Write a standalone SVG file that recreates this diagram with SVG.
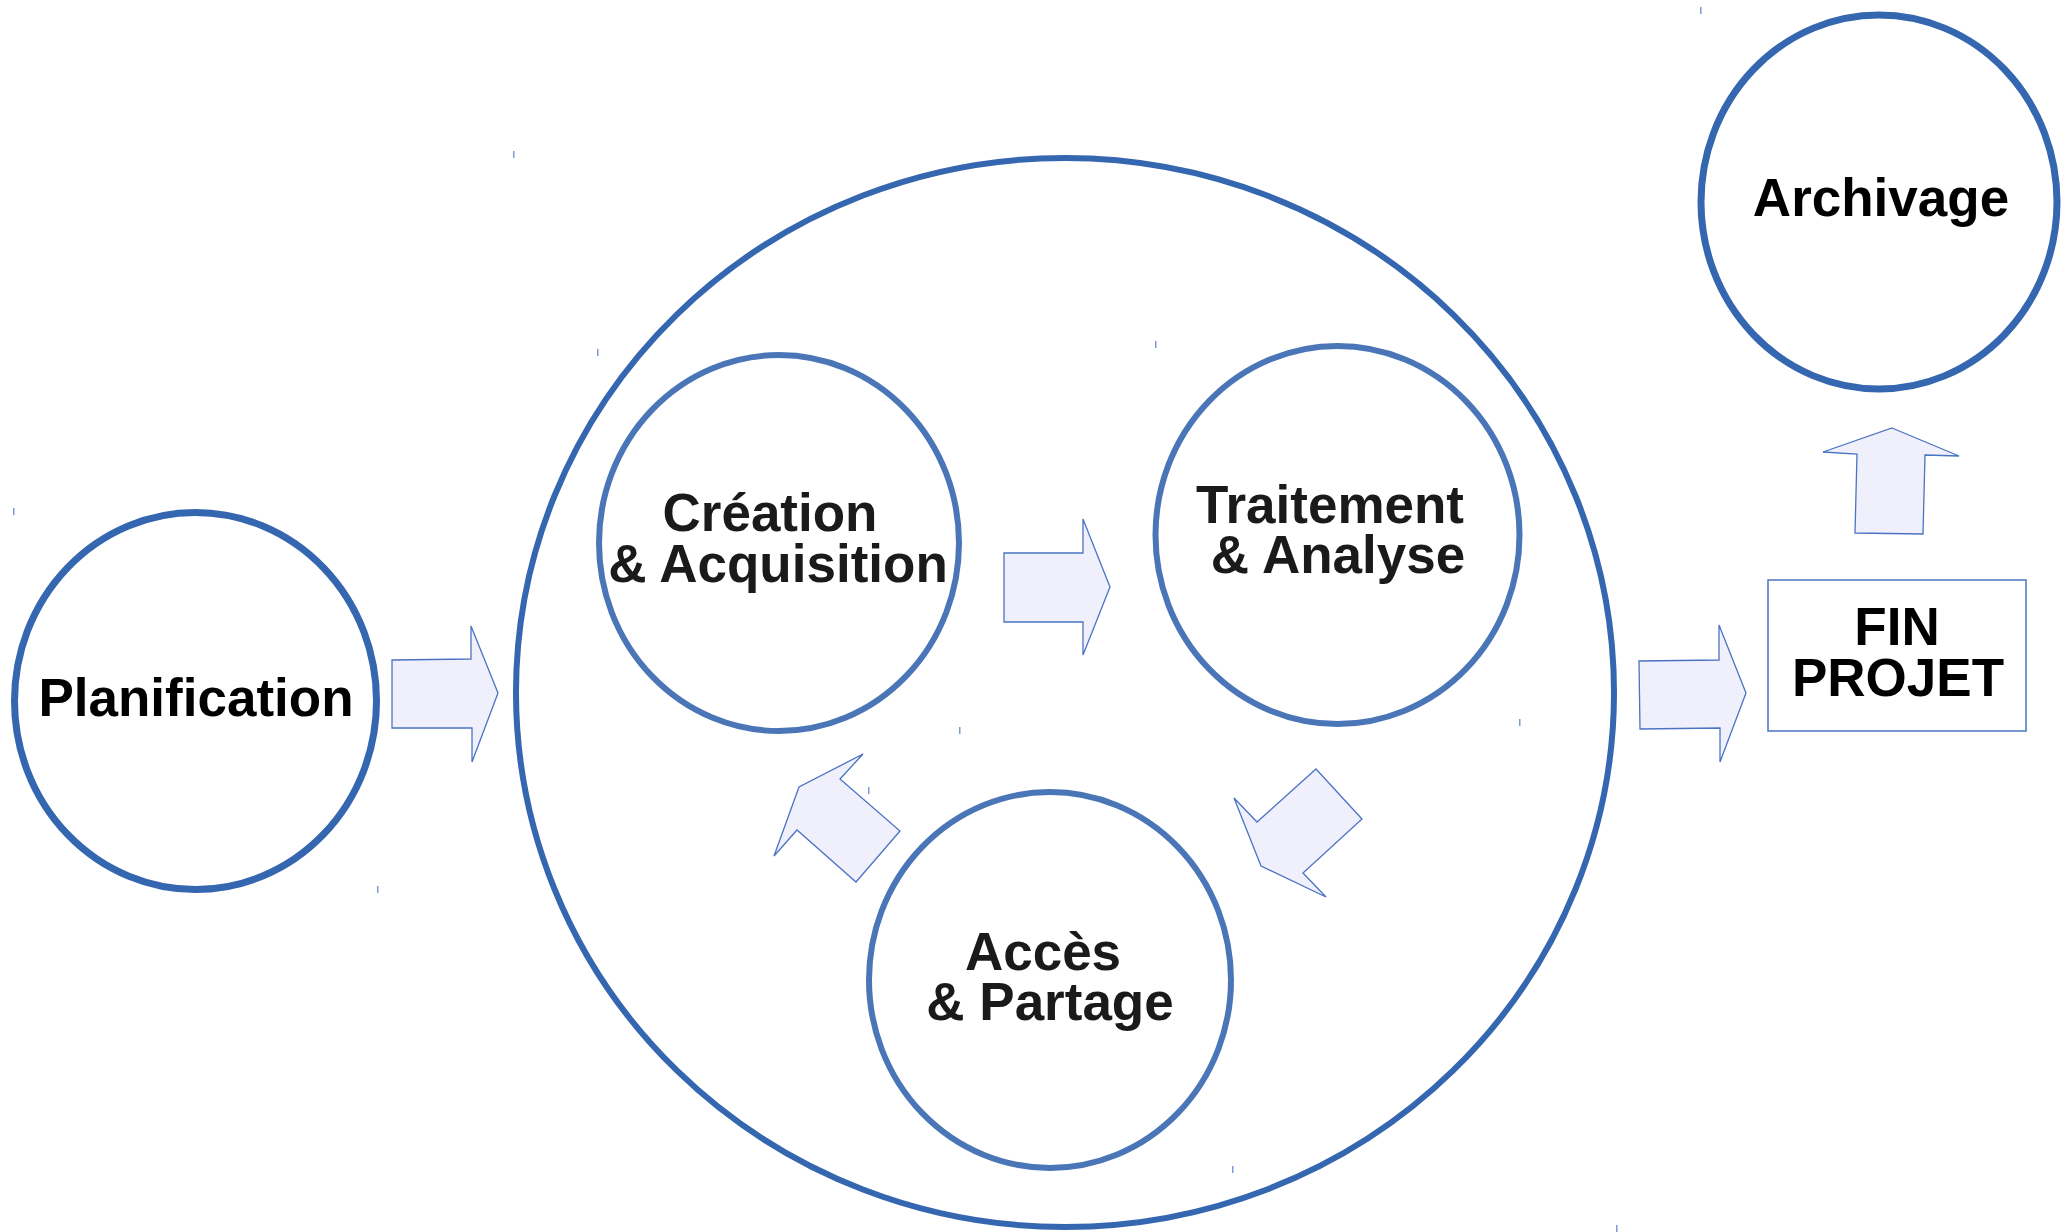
<svg xmlns="http://www.w3.org/2000/svg" width="2061" height="1232" viewBox="0 0 2061 1232">
<style>
.outer{fill:none;stroke:#3566b0;}
.inner{fill:none;stroke:#4a76b8;stroke-width:6;}
.arrow{fill:#eff0fc;stroke:#4b73c2;stroke-width:1.3;stroke-linejoin:miter;}
.lbl{font-family:"Liberation Sans",Arial,sans-serif;font-weight:bold;font-size:53px;text-anchor:middle;}
.blk{fill:#000000;}
.drk{fill:#1a1a1a;}
.tick{fill:#7d9bd3;}
</style>
<rect width="2061" height="1232" fill="#ffffff"/>
<g id="cycle">
  <ellipse class="outer" cx="1065" cy="692.5" rx="549" ry="534.5" stroke-width="6"/>
</g>
<g id="planification">
  <ellipse class="outer" cx="195.5" cy="701" rx="181" ry="188.5" stroke-width="7"/>
  <text class="lbl blk" x="196" y="716">Planification</text>
</g>
<g id="creation">
  <ellipse class="inner" cx="779" cy="543" rx="180" ry="188"/>
  <text class="lbl drk" x="770" y="531">Création</text>
  <text class="lbl drk" x="778" y="582">&amp; Acquisition</text>
</g>
<g id="traitement">
  <ellipse class="inner" cx="1337.5" cy="535" rx="182" ry="189"/>
  <text class="lbl drk" x="1330" y="523">Traitement</text>
  <text class="lbl drk" x="1338" y="573">&amp; Analyse</text>
</g>
<g id="acces">
  <ellipse class="inner" cx="1050" cy="980" rx="181" ry="188"/>
  <text class="lbl drk" x="1043" y="970">Accès</text>
  <text class="lbl drk" x="1050" y="1020">&amp; Partage</text>
</g>
<g id="archivage">
  <ellipse class="outer" cx="1879" cy="202" rx="178" ry="187" stroke-width="7"/>
  <text class="lbl blk" x="1881" y="216">Archivage</text>
</g>
<g id="fin-projet">
  <rect x="1768" y="580" width="258" height="151" fill="#ffffff" stroke="#4b73c2" stroke-width="1.5"/>
  <text class="lbl blk" x="1897" y="645">FIN</text>
  <text class="lbl blk" x="1898" y="696">PROJET</text>
</g>
<g id="connectors">
  <polygon class="arrow" points="392,660 471,659 471,626 498,693 472,762 472,728 392,728"/>
  <polygon class="arrow" points="1004,553 1083,553 1083,519 1110,587 1083,655 1083,622 1004,622"/>
  <polygon class="arrow" points="1316,769 1362,819 1303,873 1326,897 1261,866 1234,798 1257,822"/>
  <polygon class="arrow" points="863,754 840,779 900,831 856,882 797,830 774,856 799,787"/>
  <polygon class="arrow" points="1639,661 1719,660 1719,625 1746,693 1720,762 1720,728 1640,729"/>
  <polygon class="arrow" points="1892,428 1959,456 1925,455 1923,534 1855,533 1857,454 1823,452"/>
</g>
<g id="ticks">
  <rect class="tick" x="13" y="508" width="1.5" height="7"/>
  <rect class="tick" x="377" y="886" width="1.5" height="7"/>
  <rect class="tick" x="513" y="151" width="1.5" height="7"/>
  <rect class="tick" x="597" y="349" width="1.5" height="7"/>
  <rect class="tick" x="1155" y="341" width="1.5" height="7"/>
  <rect class="tick" x="959" y="727" width="1.5" height="7"/>
  <rect class="tick" x="1519" y="719" width="1.5" height="7"/>
  <rect class="tick" x="868" y="787" width="1.5" height="7"/>
  <rect class="tick" x="1232" y="1166" width="1.5" height="7"/>
  <rect class="tick" x="1616" y="1225" width="1.5" height="7"/>
  <rect class="tick" x="1700" y="7" width="1.5" height="7"/>
</g>
</svg>
